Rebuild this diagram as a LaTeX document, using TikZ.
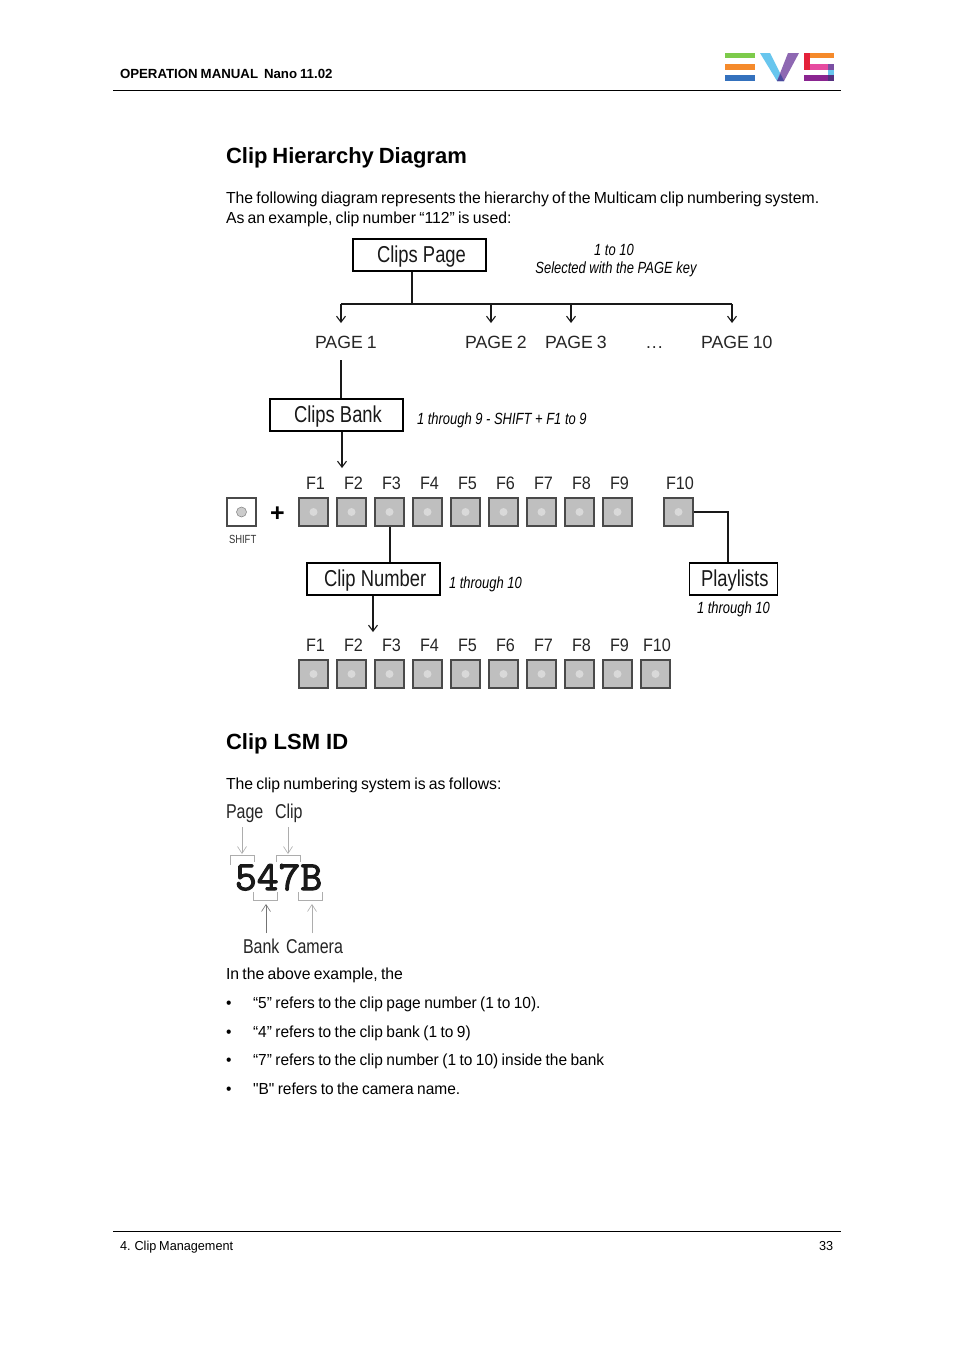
\documentclass[tikz,border=0pt]{standalone}
\usepackage{fontspec}
\setmainfont[Ligatures=TeXOff,WordSpace=0.75,FakeStretch=0.985]{Liberation Sans}
\newfontfamily\bulf[Ligatures=TeXOff,WordSpace=0.8,FakeStretch=0.968]{Liberation Sans}
\newfontfamily\footf[WordSpace=0.8,FakeStretch=0.975]{Liberation Sans}
\newfontfamily\plainf{Liberation Sans}
\newfontfamily\headf[WordSpace=0.8]{Liberation Sans}
\newfontfamily\narrowf[FakeStretch=0.8]{Liberation Sans}
\newfontfamily\keyf[FakeStretch=0.9]{Liberation Sans}
\newfontfamily\monof[FakeBold=2.5,FakeStretch=1.02]{Latin Modern Mono}
\usetikzlibrary{arrows.meta}
\definecolor{btn}{gray}{0.75}
\definecolor{lnk}{HTML}{4A4A4A}
\definecolor{evsgreen}{HTML}{7DCB4B}
\definecolor{evsorange}{HTML}{F58A2B}
\definecolor{evsblue}{HTML}{3471BD}
\definecolor{evssky}{HTML}{68C6EE}
\definecolor{evspurple}{HTML}{8E68B2}
\definecolor{evsred}{HTML}{E4213A}
\definecolor{evspink}{HTML}{E64BA0}
\definecolor{evsviolet}{HTML}{7A4FA3}
\definecolor{evsplum}{HTML}{8A2590}
\definecolor{evsdark}{HTML}{55307F}
\definecolor{evsmid}{HTML}{4B4A9E}
\tikzset{
 lab/.style={anchor=base west,inner sep=0pt,outer sep=0pt},
 body/.style={lab,font=\fontsize{16}{19}\selectfont,text=black},
 bul/.style={lab,font=\bulf\fontsize{16}{19}\selectfont,text=black},
 head/.style={lab,font=\headf\fontsize{22}{26}\selectfont\bfseries},
 hdrl/.style={lab,font=\plainf\fontsize{13.25}{16}\selectfont\bfseries},
 small/.style={lab,font=\footf\fontsize{13}{16}\selectfont},
 keyl/.style={lab,font=\keyf\fontsize{18}{22}\selectfont,text=black!85},
 boxl/.style={draw=black,line width=1.1pt,minimum height=32pt,inner sep=0pt},
 boxt/.style={lab,font=\narrowf\fontsize{23}{28}\selectfont,text=black!90},
 note/.style={lab,font=\narrowf\itshape\fontsize{16.2}{20}\selectfont},
 fkey/.style={draw=lnk,line width=1.1pt,fill=btn,minimum width=29pt,minimum height=28pt,inner sep=0pt},
 conn/.style={draw=black!90,line width=1.1pt},
 arr/.style={conn,-{Straight Barb[length=6pt,width=9pt]}},
 thin/.style={draw=black!32,line width=.6pt},
 thinarr/.style={thin,-{Straight Barb[length=7pt,width=9pt]}},
}
\begin{document}
\begin{tikzpicture}[x=1pt,y=-1pt]
\useasboundingbox (0,0) rectangle (954,1350);
\fill[white] (0,0) rectangle (954,1350);
% header
\node[hdrl] (hdr) at (120,78) {OPERATION MANUAL};
\node[hdrl] (hdrb) at (264,78) {Nano 11.02};
\draw[black,line width=1pt] (113,90.5) -- (841,90.5);
\fill[evsgreen] (725,53) rectangle (755,58);
\fill[evsorange] (725,64) rectangle (755,70);
\fill[evsblue] (725,75) rectangle (755,81);
\fill[evssky] (760,53) -- (770,53) -- (784,81) -- (777,81) -- cycle;
\fill[evspurple] (788,53) -- (799,53) -- (784,81) -- (777,81) -- cycle;
\fill[evsmid] (777,81) -- (784,81) -- (780.5,74) -- cycle;
\fill[evsred] (804,53) rectangle (810,70);
\fill[evsorange] (810,53) rectangle (834,58);
\fill[evspink] (810,64) rectangle (828,70);
\fill[evsviolet] (828,64) rectangle (834,70);
\fill[evssky] (828,70) rectangle (834,75);
\fill[evsplum] (804,75) rectangle (828,81);
\fill[evsdark] (828,75) rectangle (834,81);
% titles and text
\node[head] (t1) at (226,163) {Clip Hierarchy Diagram};
\node[body] (p1) at (226,203) {The following diagram represents the hierarchy of the Multicam clip numbering system.};
\node[body] (p2) at (226,223) {As an example, clip number “112” is used:};
% boxes
\node[boxl,minimum width=133pt] (clipspage) at (419.5,255) {};
\node[boxl,minimum width=133pt] (clipsbank) at (336.5,415) {};
\node[boxl,minimum width=133pt] (clipnumber) at (373.5,579) {};
\node[boxl,minimum width=88pt] (playlists) at (733.5,579) {};
\node[boxt] (clipspaget) at (377,262) {Clips Page};
\node[boxt] (clipsbankt) at (294,422) {Clips Bank};
\node[boxt] (clipnumbert) at (324,586) {Clip Number};
\node[boxt] (playlistst) at (701,586) {Playlists};
% notes
\node[note,anchor=base] (n1) at (614,255) {1 to 10};
\node[note,anchor=base] (n2) at (616,273) {Selected with the PAGE key};
\node[note] (n3) at (417,424) {1 through 9 - SHIFT + F1 to 9};
\node[note] (n4) at (449,588) {1 through 10};
\node[note] (n5) at (697,613) {1 through 10};
% pages
\tikzset{pagel/.style={lab,font=\plainf\fontsize{17.7}{20}\selectfont,text=black!85}}
\node[pagel] (pg1) at (315,348) {PAGE 1};
\node[pagel] (pg2) at (465,348) {PAGE 2};
\node[pagel] (pg3) at (545,348) {PAGE 3};
\node[pagel] (dots) at (646,348) {.\kern1pt.\kern1pt.};
\node[pagel] (pg10) at (701,348) {PAGE 10};
\coordinate (j0) at (412,304);
\coordinate (a1) at (341,304);
\coordinate (a2) at (491,304);
\coordinate (a3) at (571,304);
\coordinate (a4) at (732,304);
\coordinate (e1) at (341,323);
\coordinate (e2) at (491,323);
\coordinate (e3) at (571,323);
\coordinate (e4) at (732,323);
\draw[conn] (clipspage.south -| j0) -- (j0);
\draw[conn] (a1) -- (a4);
\draw[arr] (a1) -- (e1);
\draw[arr] (a2) -- (e2);
\draw[arr] (a3) -- (e3);
\draw[arr] (a4) -- (e4);
\coordinate (pgb) at (341,360);
\draw[conn] (pgb) -- (pgb |- clipsbank.north);
\coordinate (bankarr) at (342,468);
\draw[arr] (bankarr |- clipsbank.south) -- (bankarr);
% shift key
\node[fkey,fill=white] (shift) at (241.5,512) {};
\fill[black!20,draw=black!50,line width=.5pt] (shift.center) circle (5);
\node[lab,font=\narrowf\fontsize{11.8}{15}\selectfont,text=black!80] (shl) at (229,543) {SHIFT};
\node[lab,font=\plainf\fontsize{25}{28}\selectfont\bfseries] (plus) at (270,521) {+};
% row 1
\foreach \i in {1,...,9}{
 \pgfmathsetmacro\xx{313.5+38*(\i-1)}
 \node[fkey] (a\i key) at (\xx,512) {};
 \fill[black!15] (a\i key.center) circle (4);
 \node[keyl,anchor=base] (a\i lab) at (\xx+2,489) {F\i};
}
\node[fkey] (akeyten) at (678.5,512) {};
\fill[black!15] (akeyten.center) circle (4);
\node[keyl,anchor=base] (alabten) at (680,489) {F10};
% row 2
\foreach \i in {1,...,9}{
 \pgfmathsetmacro\xx{313.5+38*(\i-1)}
 \node[fkey] (b\i key) at (\xx,674) {};
 \fill[black!15] (b\i key.center) circle (4);
 \node[keyl,anchor=base] (b\i lab) at (\xx+2,651) {F\i};
}
\node[fkey] (bkeyten) at (655.5,674) {};
\fill[black!15] (bkeyten.center) circle (4);
\node[keyl,anchor=base] (blabten) at (657,651) {F10};
% connectors
\coordinate (numin) at ([xshift=.5pt]a3key.south);
\draw[conn] (numin) -- (numin |- clipnumber.north);
\coordinate (numarr) at (373,632);
\draw[arr] (numarr |- clipnumber.south) -- (numarr);
\coordinate (pv) at (728,512);
\draw[conn] (akeyten.east) -- (pv) -- (pv |- playlists.north);
% clip LSM ID
\node[lab,font=\plainf\fontsize{22}{26}\selectfont\bfseries] (t2) at (226,749) {\spaceskip=6.1pt Clip LSM ID};
\node[body] (p3) at (226,789) {The clip numbering system is as follows:};
\tikzset{cl/.style={lab,font=\narrowf\fontsize{20}{24}\selectfont,text=black!85}}
\node[cl] (page) at (226,818) {Page};
\node[cl] (clip) at (275,818) {Clip};
\node[cl] (bank) at (243,953) {Bank};
\node[cl] (camera) at (286,953) {Camera};
\node[lab,font=\monof\fontsize{41.5}{44}\selectfont,text=black!90] (num) at (235,890) {547B};
\coordinate (pb) at (242,827); \coordinate (pe) at (242,854);
\coordinate (cb) at (288,827); \coordinate (ce) at (288,854);
\coordinate (bb) at (266,933); \coordinate (be) at (266,904);
\coordinate (mb) at (312,933); \coordinate (me) at (312,904);
\draw[thinarr] (pb) -- (pe);
\draw[thinarr] (cb) -- (ce);
\draw[thinarr,draw=black!55] (bb) -- (be);
\draw[thinarr] (mb) -- (me);
\draw[thin] (230.5,865) |- (254,855.5) -- (254,862);
\draw[thin] (276.5,862) |- (300,855.5) -- (300,862);
\draw[thin] (253.5,892) |- (277,900.5) -- (277,892);
\draw[thin] (298.5,892) |- (322,900.5) -- (322,892);
% text
\node[body] (p4) at (226,979) {In the above example, the};
\foreach \y/\t/\n in {1008/“5” refers to the clip page number (1 to 10)./la,1037/“4” refers to the clip bank (1 to 9)/lb,1065/“7” refers to the clip number (1 to 10) inside the bank/lc,1094/"B" refers to the camera name./ld}{
 \node[bul] (\n b) at (226,\y) {•};
 \node[bul] (\n) at (253,\y) {\t};
}
% footer
\draw[black,line width=1pt] (113,1231.5) -- (841,1231.5);
\node[small] (f1) at (120,1250) {4. Clip Management};
\node[small] (f2) at (819,1250) {33};
\end{tikzpicture}
\end{document}
